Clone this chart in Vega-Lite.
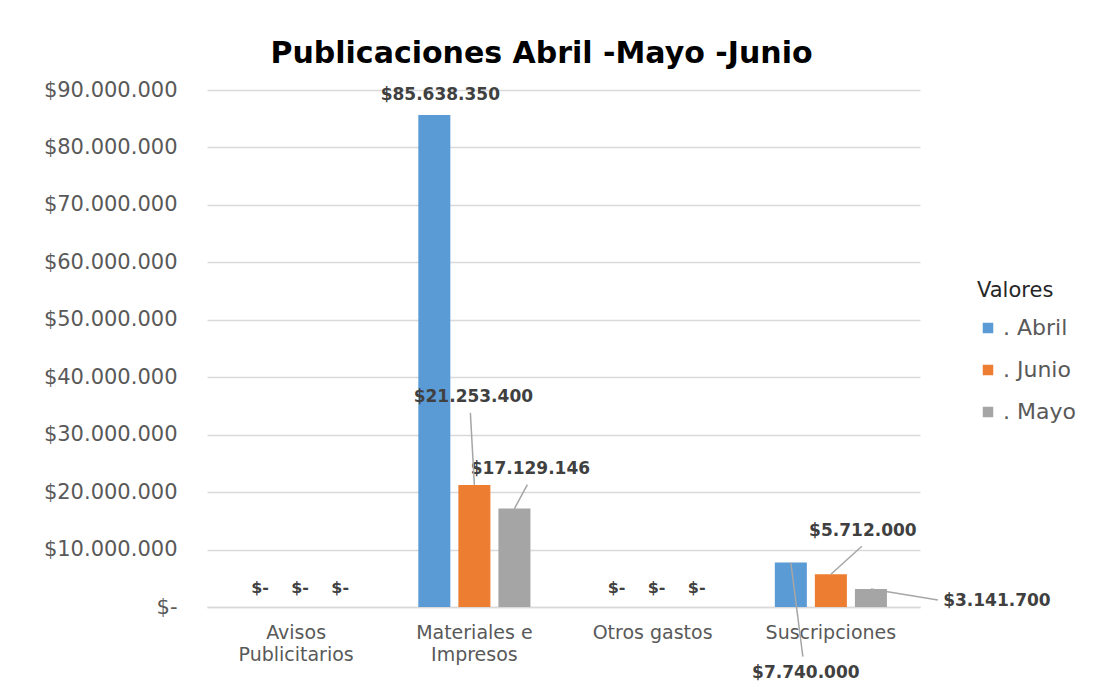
{
  "$schema": "https://vega.github.io/schema/vega-lite/v6.json",
  "width": 713,
  "height": 517,
  "autosize": "none",
  "padding": {"left": 207, "top": 90, "right": 199, "bottom": 82},
  "background": "white",
  "config": {
    "locale": {"number": {"decimal": ",", "thousands": ".", "grouping": [3], "currency": ["$", ""]}},
    "view": {"stroke": null}
  },
  "title": {
    "text": "Publicaciones Abril -Mayo -Junio",
    "font": "DejaVu Sans",
    "fontSize": 30,
    "fontWeight": "bold",
    "color": "#000000",
    "anchor": "middle",
    "dx": -22,
    "offset": 10
  },
  "data": {
    "values": [
      {"cat": "Avisos Publicitarios", "serie": ". Abril", "valor": 0},
      {"cat": "Avisos Publicitarios", "serie": ". Junio", "valor": 0},
      {"cat": "Avisos Publicitarios", "serie": ". Mayo", "valor": 0},
      {"cat": "Materiales e Impresos", "serie": ". Abril", "valor": 85638350},
      {"cat": "Materiales e Impresos", "serie": ". Junio", "valor": 21253400},
      {"cat": "Materiales e Impresos", "serie": ". Mayo", "valor": 17129146},
      {"cat": "Otros gastos", "serie": ". Abril", "valor": 0},
      {"cat": "Otros gastos", "serie": ". Junio", "valor": 0},
      {"cat": "Otros gastos", "serie": ". Mayo", "valor": 0},
      {"cat": "Suscripciones", "serie": ". Abril", "valor": 7740000},
      {"cat": "Suscripciones", "serie": ". Junio", "valor": 5712000},
      {"cat": "Suscripciones", "serie": ". Mayo", "valor": 3141700}
    ]
  },
  "encoding": {
    "x": {
      "field": "cat",
      "type": "nominal",
      "sort": null,
      "title": null,
      "scale": {"paddingInner": 0.326, "paddingOuter": 0.163},
      "axis": {
        "labelAngle": 0,
        "labelExpr": "datum.label == 'Avisos Publicitarios' ? ['Avisos', 'Publicitarios'] : datum.label == 'Materiales e Impresos' ? ['Materiales e', 'Impresos'] : datum.label",
        "labelFont": "DejaVu Sans",
        "labelFontSize": 19,
        "labelColor": "#595959",
        "labelPadding": 16,
        "labelLineHeight": 22,
        "ticks": false,
        "domainColor": "#d9d9d9",
        "domainWidth": 1.5
      }
    },
    "xOffset": {
      "field": "serie",
      "type": "nominal",
      "sort": [". Abril", ". Junio", ". Mayo"],
      "scale": {"paddingInner": 0.2, "paddingOuter": 0.1}
    },
    "y": {
      "field": "valor",
      "type": "quantitative",
      "title": null,
      "scale": {"domain": [0, 90000000]},
      "axis": {
        "values": [0, 10000000, 20000000, 30000000, 40000000, 50000000, 60000000, 70000000, 80000000, 90000000],
        "format": "$,d",
        "labelExpr": "datum.value == 0 ? '$-' : datum.label",
        "domain": false,
        "ticks": false,
        "gridColor": "#d9d9d9",
        "gridWidth": 1.5,
        "labelFont": "DejaVu Sans",
        "labelFontSize": 21,
        "labelColor": "#595959",
        "labelPadding": 30
      }
    }
  },
  "layer": [
    {
      "mark": {"type": "bar"},
      "encoding": {
        "color": {
          "field": "serie",
          "type": "nominal",
          "sort": [". Abril", ". Junio", ". Mayo"],
          "scale": {"range": ["#5B9BD5", "#ED7D31", "#A5A5A5"]},
          "legend": {
            "title": "Valores",
            "orient": "none",
            "legendX": 770,
            "legendY": 190,
            "symbolType": "square",
            "symbolSize": 110,
            "symbolStrokeWidth": 0,
            "labelFont": "DejaVu Sans",
            "labelFontSize": 22,
            "labelColor": "#595959",
            "titleFont": "DejaVu Sans",
            "titleFontSize": 21,
            "titleFontWeight": "normal",
            "titleColor": "#262626",
            "titlePadding": 16,
            "rowPadding": 20
          }
        }
      }
    },
    {
      "transform": [{"filter": "datum.valor == 0"}],
      "mark": {"type": "text", "font": "DejaVu Sans", "fontSize": 16, "fontWeight": "bold", "color": "#404040", "dx": 4, "dy": -19},
      "encoding": {"text": {"value": "$-"}}
    },
    {
      "transform": [{"filter": "datum.cat == 'Materiales e Impresos' && datum.serie == '. Abril'"}],
      "mark": {"type": "text", "font": "DejaVu Sans", "fontSize": 17, "fontWeight": "bold", "color": "#404040", "dx": 6, "dy": -20},
      "encoding": {"text": {"field": "valor", "type": "quantitative", "format": "$,d"}}
    },
    {
      "transform": [{"filter": "datum.cat == 'Materiales e Impresos' && datum.serie == '. Junio'"}],
      "mark": {"type": "text", "font": "DejaVu Sans", "fontSize": 17, "fontWeight": "bold", "color": "#404040", "dx": -1, "dy": -88},
      "encoding": {"text": {"field": "valor", "type": "quantitative", "format": "$,d"}}
    },
    {
      "transform": [{"filter": "datum.cat == 'Materiales e Impresos' && datum.serie == '. Mayo'"}],
      "mark": {"type": "text", "font": "DejaVu Sans", "fontSize": 17, "fontWeight": "bold", "color": "#404040", "dx": 16, "dy": -40},
      "encoding": {"text": {"field": "valor", "type": "quantitative", "format": "$,d"}}
    },
    {
      "transform": [{"filter": "datum.cat == 'Suscripciones' && datum.serie == '. Abril'"}],
      "mark": {"type": "text", "font": "DejaVu Sans", "fontSize": 17, "fontWeight": "bold", "color": "#404040", "dx": 15, "dy": 110},
      "encoding": {"text": {"field": "valor", "type": "quantitative", "format": "$,d"}}
    },
    {
      "transform": [{"filter": "datum.cat == 'Suscripciones' && datum.serie == '. Junio'"}],
      "mark": {"type": "text", "font": "DejaVu Sans", "fontSize": 17, "fontWeight": "bold", "color": "#404040", "dx": 32, "dy": -43},
      "encoding": {"text": {"field": "valor", "type": "quantitative", "format": "$,d"}}
    },
    {
      "transform": [{"filter": "datum.cat == 'Suscripciones' && datum.serie == '. Mayo'"}],
      "mark": {"type": "text", "font": "DejaVu Sans", "fontSize": 17, "fontWeight": "bold", "color": "#404040", "dx": 126, "dy": 12},
      "encoding": {"text": {"field": "valor", "type": "quantitative", "format": "$,d"}}
    },
    {
      "transform": [{"filter": "datum.cat == 'Materiales e Impresos' && datum.serie == '. Junio'"}],
      "mark": {"type": "rule", "color": "#a6a6a6", "strokeWidth": 1.5, "y2Offset": -72, "x2Offset": -4},
      "encoding": {"x2": {"field": "cat"}, "y2": {"field": "valor"}}
    },
    {
      "transform": [{"filter": "datum.cat == 'Materiales e Impresos' && datum.serie == '. Mayo'"}],
      "mark": {"type": "rule", "color": "#a6a6a6", "strokeWidth": 1.5, "y2Offset": -24, "x2Offset": 53},
      "encoding": {"x2": {"field": "cat"}, "y2": {"field": "valor"}}
    },
    {
      "transform": [{"filter": "datum.cat == 'Suscripciones' && datum.serie == '. Abril'"}],
      "mark": {"type": "rule", "color": "#a6a6a6", "strokeWidth": 1.5, "y2Offset": 94, "x2Offset": -28},
      "encoding": {"x2": {"field": "cat"}, "y2": {"field": "valor"}}
    },
    {
      "transform": [{"filter": "datum.cat == 'Suscripciones' && datum.serie == '. Junio'"}],
      "mark": {"type": "rule", "color": "#a6a6a6", "strokeWidth": 1.5, "y2Offset": -28, "x2Offset": 31},
      "encoding": {"x2": {"field": "cat"}, "y2": {"field": "valor"}}
    },
    {
      "transform": [{"filter": "datum.cat == 'Suscripciones' && datum.serie == '. Mayo'"}],
      "mark": {"type": "rule", "color": "#a6a6a6", "strokeWidth": 1.5, "y2Offset": 11, "x2Offset": 107},
      "encoding": {"x2": {"field": "cat"}, "y2": {"field": "valor"}}
    }
  ]
}
